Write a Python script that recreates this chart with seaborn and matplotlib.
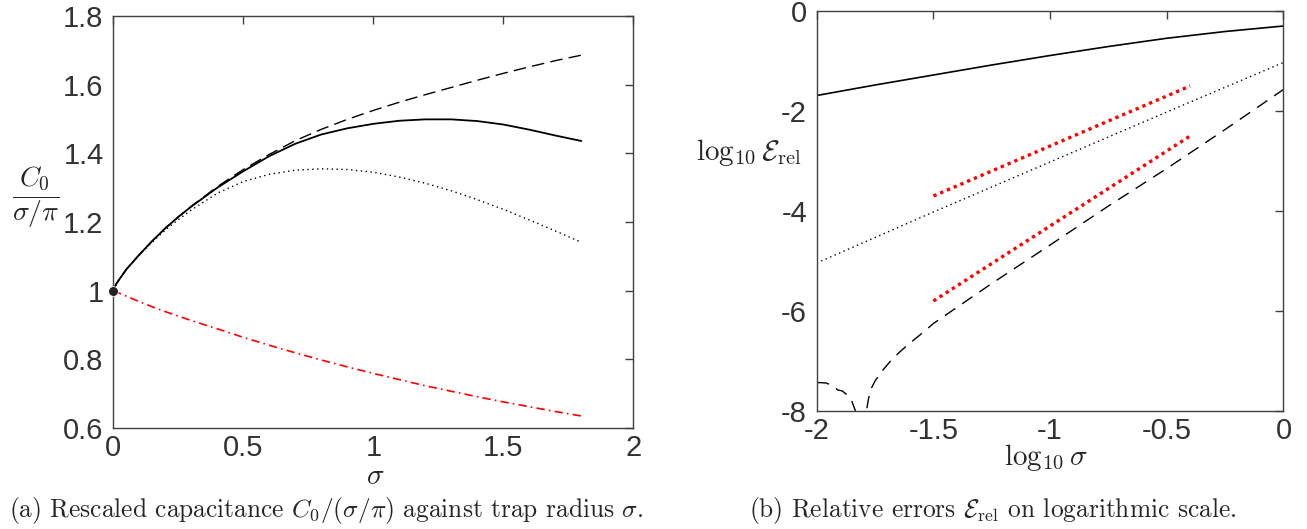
import matplotlib
matplotlib.use('Agg')
import matplotlib.pyplot as plt
import seaborn as sns


# (a) rescaled capacitance against sigma
sigma = [0.0, 0.01, 0.025, 0.05, 0.1, 0.15, 0.2, 0.25, 0.3, 0.4, 0.5, 0.6, 0.7, 0.8,
         0.9, 1.0, 1.1, 1.2, 1.3, 1.4, 1.5, 1.6, 1.7, 1.8]
c_solid = [1.0, 1.018, 1.035, 1.062, 1.105, 1.145, 1.182, 1.215, 1.245, 1.300, 1.348, 1.392,
           1.428, 1.455, 1.473, 1.486, 1.495, 1.499, 1.499, 1.494, 1.484, 1.469, 1.452, 1.436]
c_dashed = [1.0, 1.018, 1.035, 1.062, 1.105, 1.145, 1.182, 1.215, 1.246, 1.303, 1.353, 1.397,
            1.437, 1.470, 1.499, 1.525, 1.549, 1.571, 1.592, 1.613, 1.633, 1.652, 1.670, 1.686]
c_dotted = [1.0, 1.018, 1.035, 1.062, 1.104, 1.142, 1.177, 1.207, 1.235, 1.284, 1.318, 1.339,
            1.351, 1.355, 1.353, 1.345, 1.331, 1.313, 1.291, 1.265, 1.237, 1.206, 1.174, 1.141]
c_red = [1.0, 0.997, 0.992, 0.984, 0.968, 0.953, 0.939, 0.926, 0.913, 0.889, 0.864, 0.841,
         0.819, 0.798, 0.778, 0.759, 0.741, 0.723, 0.707, 0.691, 0.676, 0.662, 0.648, 0.635]
dot_x = [0.0]
dot_y = [1.0]

xticks_a = [0, 0.5, 1, 1.5, 2]
xlabels_a = ['0', '0.5', '1', '1.5', '2']
yticks_a = [0.6, 0.8, 1.0, 1.2, 1.4, 1.6, 1.8]
ylabels_a = ['0.6', '0.8', '1', '1.2', '1.4', '1.6', '1.8']

# (b) relative errors, log scale
logs = [-2.0, -1.75, -1.5, -1.25, -1.0, -0.75, -0.5, -0.25, 0.0]
err_solid = [-1.69, -1.48, -1.28, -1.08, -0.89, -0.71, -0.545, -0.41, -0.30]
logs_dot = [-2.0, -1.5, -1.0, -0.5, 0.0]
err_dotted = [-5.04, -4.02, -3.02, -2.02, -1.03]
logs_dash = [-2.0, -1.96, -1.93, -1.91, -1.89, -1.87, -1.85, -1.83, -1.81, -1.79, -1.78,
             -1.77, -1.75, -1.72, -1.68, -1.64, -1.6, -1.55, -1.5, -1.4, -1.25, -1.0,
             -0.75, -0.5, -0.25, 0.0]
err_dashed = [-7.43, -7.44, -7.5, -7.58, -7.6, -7.68, -7.8, -8.05, -8.9, -8.1, -7.8,
              -7.58, -7.4, -7.2, -6.98, -6.8, -6.64, -6.45, -6.25, -5.93, -5.45, -4.68,
              -3.90, -3.15, -2.37, -1.57]
slope2_x = [-1.5, -0.4]
slope2_y = [-3.70, -1.50]
slope3_x = [-1.5, -0.4]
slope3_y = [-5.80, -2.50]

xticks_b = [-2, -1.5, -1, -0.5, 0]
xlabels_b = ['-2', '-1.5', '-1', '-0.5', '0']
yticks_b = [-8, -6, -4, -2, 0]
ylabels_b = ['-8', '-6', '-4', '-2', '0']


sns.set_style('white')
plt.rcParams['font.family'] = ['Liberation Sans', 'DejaVu Sans']
plt.rcParams['mathtext.fontset'] = 'cm'

fig = plt.figure(figsize=(13.07, 5.29), dpi=100)
ax1 = fig.add_axes([0.0867, 0.1909, 0.3979, 0.7788])
ax2 = fig.add_axes([0.6249, 0.2231, 0.3571, 0.7561])

# panel a
sns.lineplot(x=sigma, y=c_dashed, ax=ax1, color='black', linewidth=1.0, linestyle=(0, (9, 4.5)))
sns.lineplot(x=sigma, y=c_dotted, ax=ax1, color='black', linewidth=1.0, linestyle=(0, (1, 2.5)))
sns.lineplot(x=sigma, y=c_solid, ax=ax1, color='black', linewidth=1.3)
sns.lineplot(x=sigma, y=c_red, ax=ax1, color='red', linewidth=1.2, linestyle=(0, (5, 2.5, 1, 2.5)))
sns.scatterplot(x=dot_x, y=dot_y, ax=ax1, color='#222222', s=50, zorder=5, clip_on=False)

ax1.set_xlim(0, 2)
ax1.set_ylim(0.6, 1.8)
ax1.set_xticks(xticks_a)
ax1.set_xticklabels(xlabels_a)
ax1.set_yticks(yticks_a)
ax1.set_yticklabels(ylabels_a)
ax1.set_xlabel(r'$\sigma$', fontsize=21, va='center')
ax1.xaxis.set_label_coords(0.503, -0.1165)
ax1.set_ylabel(r'$\dfrac{C_0}{\sigma/\pi}$', fontsize=20, rotation=0, ha='center', va='center')
ax1.yaxis.set_label_coords(-0.1487, 0.5607)

# panel b
sns.lineplot(x=logs, y=err_solid, ax=ax2, color='black', linewidth=1.2)
sns.lineplot(x=logs_dot, y=err_dotted, ax=ax2, color='black', linewidth=1.0, linestyle=(0, (1, 2.5)))
sns.lineplot(x=logs_dash, y=err_dashed, ax=ax2, color='black', linewidth=1.0, linestyle=(0, (9, 6)))
sns.lineplot(x=slope2_x, y=slope2_y, ax=ax2, color='red', linewidth=2.4, linestyle=(0, (1, 1.2)))
sns.lineplot(x=slope3_x, y=slope3_y, ax=ax2, color='red', linewidth=2.4, linestyle=(0, (1, 1.2)))

ax2.set_xlim(-2, 0)
ax2.set_ylim(-8, 0)
ax2.set_xticks(xticks_b)
ax2.set_xticklabels(xlabels_b)
ax2.set_yticks(yticks_b)
ax2.set_yticklabels(ylabels_b)
ax2.set_xlabel(r'$\log_{10}\sigma$', fontsize=21, va='center')
ax2.xaxis.set_label_coords(0.491, -0.1175)
ax2.set_ylabel(r'$\log_{10}\mathcal{E}_{\mathrm{rel}}$', fontsize=21, rotation=0, ha='center', va='center')
ax2.yaxis.set_label_coords(-0.146, 0.645)

for ax in (ax1, ax2):
    for sp in ax.spines.values():
        sp.set_visible(True)
        sp.set_color('#404040')
        sp.set_linewidth(1.0)
    ax.tick_params(direction='in', length=5.5, width=1.0, color='#404040',
                   top=True, right=True, labelsize=21, labelcolor='#333333')
    ax.tick_params(axis='x', pad=4.5)
    ax.tick_params(axis='y', pad=7)

fig.text(326 / 1307, 1 - 510 / 529,
         r'(a) Rescaled capacitance $C_0/(\sigma/\pi)$ against trap radius $\sigma$.',
         family='cmr10', fontsize=18.3, ha='center', va='center')
fig.text(993 / 1307, 1 - 510 / 529,
         r'(b) Relative errors $\mathcal{E}_{\mathrm{rel}}$ on logarithmic scale.',
         family='cmr10', fontsize=18.3, ha='center', va='center')

fig.savefig('out.png', dpi=100)
